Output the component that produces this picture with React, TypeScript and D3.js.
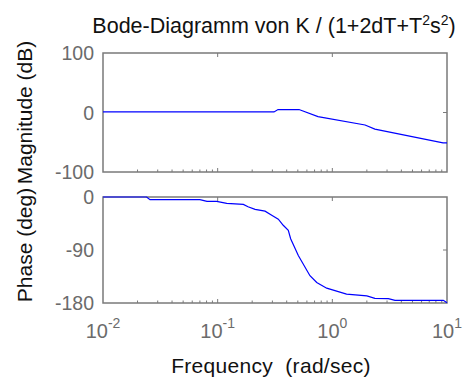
import * as d3 from 'd3'

// frequency samples (rad/sec) and values
const magFreq = [0.01, 0.31, 0.336, 0.512, 0.75, 1.93, 2.35, 9.23, 10]
const magDb = [1, 1, 5, 5, -7, -21, -28, -51, -51]

const phaseFreq = [0.01, 0.024, 0.0257, 0.07, 0.0807, 0.098, 0.12, 0.1675, 0.184, 0.212, 0.259, 0.296, 0.338, 0.373, 0.413, 0.433, 0.505, 0.638, 0.731, 0.893, 1.02, 1.33, 2.0, 2.35, 3.08, 3.52, 9.29, 10]
const phaseDeg = [0, 0, -4.6, -4.6, -7.4, -7.4, -10.8, -12.5, -16.6, -21.1, -24, -30.9, -37.7, -48, -56.6, -70.8, -99.4, -133.7, -145.2, -154.8, -158.2, -165, -168, -172, -172.6, -175.4, -175.4, -179.5]

const magTicks = [100, 0, -100]
const phaseTicks = [0, -90, -180]
const decades = [-2, -1, 0, 1]

const W = 463
const H = 383
const left = 103
const right = 447
const magTop = 53
const magBottom = 172
const phTop = 197
const phBottom = 303

const font = 'Liberation Sans, Arial, sans-serif'
const frameColor = '#7a7a7a'
const labelColor = '#6b6b6b'

const App = () => {
  const x = d3.scaleLog().domain([0.01, 10]).range([left, right])
  const yMag = d3.scaleLinear().domain([-100, 100]).range([magBottom, magTop])
  const yPh = d3.scaleLinear().domain([-180, 0]).range([phBottom, phTop])

  const magLine = d3.line<number>()
    .x((_, i) => x(magFreq[i]))
    .y((d) => yMag(d))
  const phLine = d3.line<number>()
    .x((_, i) => x(phaseFreq[i]))
    .y((d) => yPh(d))

  const minor: number[] = []
  decades.slice(0, -1).forEach((e) => {
    for (let k = 2; k <= 9; k++) minor.push(k * Math.pow(10, e))
  })

  const panel = (top: number, bottom: number, yTickVals: number[], yScale: any, key: string) => (
    <g key={key}>
      <rect x={left} y={top} width={right - left} height={bottom - top}
        fill="none" stroke={frameColor} strokeWidth={1.5} />
      {decades.slice(1, -1).map((e) => (
        <g key={'maj' + e}>
          <line x1={x(Math.pow(10, e))} x2={x(Math.pow(10, e))} y1={bottom} y2={bottom - 4} stroke={frameColor} />
          <line x1={x(Math.pow(10, e))} x2={x(Math.pow(10, e))} y1={top} y2={top + 4} stroke={frameColor} />
        </g>
      ))}
      {minor.map((m) => (
        <line key={'min' + m} x1={x(m)} x2={x(m)} y1={bottom} y2={bottom - 2.5} stroke={frameColor} />
      ))}
      {yTickVals.slice(1, -1).map((t) => (
        <line key={'yt' + t} x1={right} x2={right - 4} y1={yScale(t)} y2={yScale(t)} stroke={frameColor} />
      ))}
      {yTickVals.map((t) => (
        <text key={'yl' + t} x={94} y={yScale(t) + 7} textAnchor="end" fontSize={19.5} fill={labelColor} fontFamily={font}>
          {t}
        </text>
      ))}
    </g>
  )

  return (
    <svg width={W} height={H} style={{ position: 'absolute', left: 0, top: 0, background: '#fff' }}>
      <rect width={W} height={H} fill="#fff" />
      <text x={274} y={33} textAnchor="middle" fontSize={21.5} fill="#111" fontFamily={font}>
        Bode-Diagramm von K / (1+2dT+T
        <tspan dy={-8} fontSize={14}>2</tspan>
        <tspan dy={8}>s</tspan>
        <tspan dy={-8} fontSize={14}>2</tspan>
        <tspan dy={8}>)</tspan>
      </text>
      {panel(magTop, magBottom, magTicks, yMag, 'mag')}
      {panel(phTop, phBottom, phaseTicks, yPh, 'ph')}
      <path d={magLine(magDb) ?? ''} fill="none" stroke="#0000ff" strokeWidth={1.2} />
      <path d={phLine(phaseDeg) ?? ''} fill="none" stroke="#0000ff" strokeWidth={1.2} />
      {decades.map((e) => (
        <text key={'xl' + e} x={x(Math.pow(10, e))} y={338} textAnchor="middle" fontSize={20} fill={labelColor} fontFamily={font}>
          10<tspan dy={-10} fontSize={14}>{e}</tspan>
        </text>
      ))}
      <text x={271} y={373} textAnchor="middle" fontSize={21} letterSpacing={0.3} fill="#111" fontFamily={font} style={{ whiteSpace: 'pre' }}>
        {'Frequency  (rad/sec)'}
      </text>
      <text transform={`translate(32, ${(magTop + magBottom) / 2}) rotate(-90)`} textAnchor="middle" fontSize={21} fill="#111" fontFamily={font}>
        Magnitude (dB)
      </text>
      <text transform={`translate(32, ${(phTop + phBottom) / 2 - 5}) rotate(-90)`} textAnchor="middle" fontSize={21} fill="#111" fontFamily={font}>
        Phase (deg)
      </text>
    </svg>
  )
}

export default App
